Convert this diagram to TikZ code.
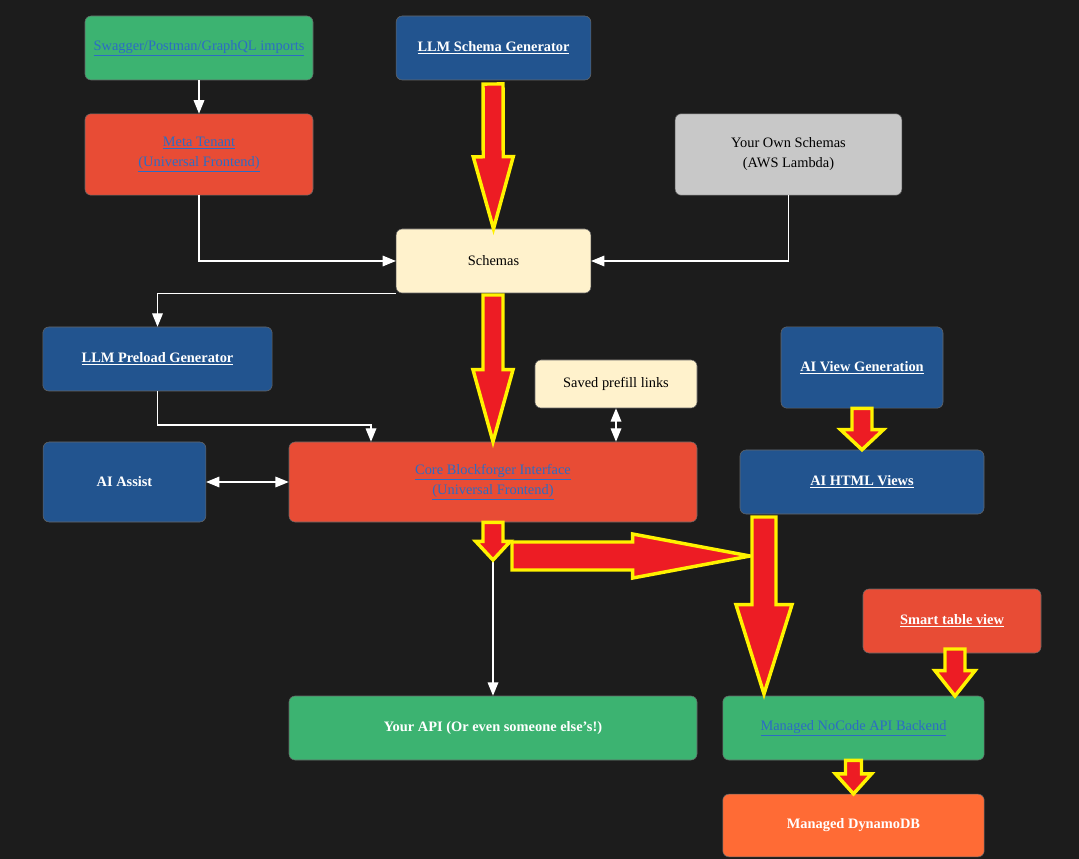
\documentclass[tikz,border=0pt]{standalone}
\usepackage{fontspec}
\setmainfont{Liberation Serif}
\usetikzlibrary{arrows.meta}
\usetikzlibrary{calc}
\definecolor{bgdark}{HTML}{1C1C1C}
\definecolor{boxgreen}{HTML}{3CB371}
\definecolor{boxblue}{HTML}{22548F}
\definecolor{boxred}{HTML}{E84C35}
\definecolor{boxgrey}{HTML}{C8C8C8}
\definecolor{boxcream}{HTML}{FFF2CC}
\definecolor{boxorange}{HTML}{FF6B35}
\definecolor{linkblue}{HTML}{2C6CC4}
\definecolor{arrred}{HTML}{ED1C24}
\definecolor{arryellow}{HTML}{FFF200}
\newcommand{\lnk}[1]{\underline{#1}}
\tikzset {
  % boxes
  box/.style = {
    draw = black!60,
    rounded corners = 4.5pt,
    align = center,
    inner sep = 0pt,
    font = \fontsize{10.8}{15}\selectfont
  },
  blue box/.style = {box, fill = boxblue, text = white, font = \fontsize{10.8}{15}\selectfont\bfseries},
  red box/.style = {box, fill = boxred, text = linkblue},
  green box/.style = {box, fill = boxgreen, text = linkblue},
  cream box/.style = {box, fill = boxcream, text = black},
  white text/.style = {text = white, font = \fontsize{10.8}{15}\selectfont\bfseries},
  % thin connectors
  link/.style = {
    draw = white,
    line width = 0.9pt,
    -{Triangle[width=8pt,length=10pt]}
  },
  both link/.style = {
    link,
    {Triangle[width=8pt,length=10pt]}-{Triangle[width=8pt,length=10pt]}
  },
  % big highlighted arrows
  bigarrow/.style = {
    draw = arryellow,
    fill = arrred,
    line width = 2.6pt,
    line join = miter
  }
}
\newcommand{\bigarrow}[5]{%
  \draw[bigarrow] let \p1 = #1, \p2 = #2,
    \n1 = {veclen(\x2-\x1,\y2-\y1)},
    \n2 = {atan2(\y2-\y1,\x2-\x1)} in
    [shift={(\p1)}, rotate=\n2]
    (0pt,-#3) -- (\n1-#5,-#3) -- (\n1-#5,-#4) -- (\n1,0pt)
    -- (\n1-#5,#4) -- (\n1-#5,#3) -- (0pt,#3) -- cycle;}

\begin{document}
\begin{tikzpicture}[x=0.75pt, y=-0.75pt]
  \fill[bgdark] (0,0) rectangle (1079,859);
  \useasboundingbox (0,0) rectangle (1079,859);

  \node[green box, minimum width=171pt, minimum height=48pt] (swagger) at (199,48) {\lnk{Swagger/Postman/GraphQL imports}};
  \node[blue box, minimum width=146pt, minimum height=48pt] (llmschema) at (493.5,48) {\lnk{LLM Schema Generator}};
  \node[red box, minimum width=171pt, minimum height=61pt] (meta) at (199,154.5) {\lnk{Meta Tenant}\\\lnk{(Universal Frontend)}};
  \node[box, fill=boxgrey, minimum width=170pt, minimum height=61pt] (own) at (788.5,154.5) {Your Own Schemas\\(AWS Lambda)};
  \node[cream box, minimum width=146pt, minimum height=48pt] (schemas) at (493.5,261) {Schemas};
  \node[blue box, minimum width=172pt, minimum height=48pt] (llmpreload) at (157.5,359) {\lnk{LLM Preload Generator}};
  \node[cream box, minimum width=121.5pt, minimum height=36pt] (prefill) at (616,384) {Saved prefill links};
  \node[blue box, minimum width=121.5pt, minimum height=61pt] (aiview) at (862,367.5) {\lnk{AI View Generation}};
  \node[blue box, minimum width=122pt, minimum height=60pt] (aiassist) at (124.5,482) {AI Assist};
  \node[red box, minimum width=306pt, minimum height=60pt] (core) at (493,482) {\lnk{Core Blockforger Interface}\\\lnk{(Universal Frontend)}};
  \node[blue box, minimum width=183pt, minimum height=48pt] (aihtml) at (862,482) {\lnk{AI HTML Views}};
  \node[red box, white text, minimum width=133.5pt, minimum height=48pt] (smart) at (952,621) {\lnk{Smart table view}};
  \node[green box, white text, minimum width=306pt, minimum height=48pt] (yourapi) at (493,728) {Your API (Or even someone else's!)};
  \node[green box, minimum width=196pt, minimum height=48pt] (nocode) at (853.5,728) {\lnk{Managed NoCode API Backend}};
  \node[box, fill=boxorange, white text, minimum width=196pt, minimum height=47pt] (dynamo) at (853.5,825.5) {Managed DynamoDB};

  \coordinate (preload-bend) at (371,425);

  \draw[link] (swagger) -- (meta);
  \draw[link] (meta.south) |- (schemas.west);
  \draw[link] (own.south) |- (schemas.east);
  \draw[link] (schemas.south west) -| (llmpreload.north);
  \draw[link] (llmpreload.south) |- (preload-bend) -- (preload-bend |- core.north);
  \draw[both link] (aiassist) -- (core);
  \draw[both link] (prefill.south) -- (prefill.south |- core.north);
  \draw[link] (core.south) -- (yourapi.north);

  \bigarrow{(493,84)}{(schemas.north)}{7.5pt}{15pt}{54pt}
  \bigarrow{(493,295)}{(core.north)}{7.5pt}{15pt}{54pt}
  \bigarrow{(aiview.south)}{(aihtml.north)}{7.5pt}{16pt}{15pt}
  \bigarrow{(core.south)}{(493,560)}{7.5pt}{13pt}{14pt}
  \bigarrow{(512,556)}{(750,556)}{10.5pt}{16.5pt}{88pt}
  \bigarrow{(764,517)}{(764,694)}{9pt}{21pt}{67pt}
  \bigarrow{(955,649)}{(955,696)}{7.5pt}{15pt}{19pt}
  \bigarrow{(nocode.south)}{(dynamo.north)}{6pt}{13.5pt}{15pt}
\end{tikzpicture}
\end{document}
